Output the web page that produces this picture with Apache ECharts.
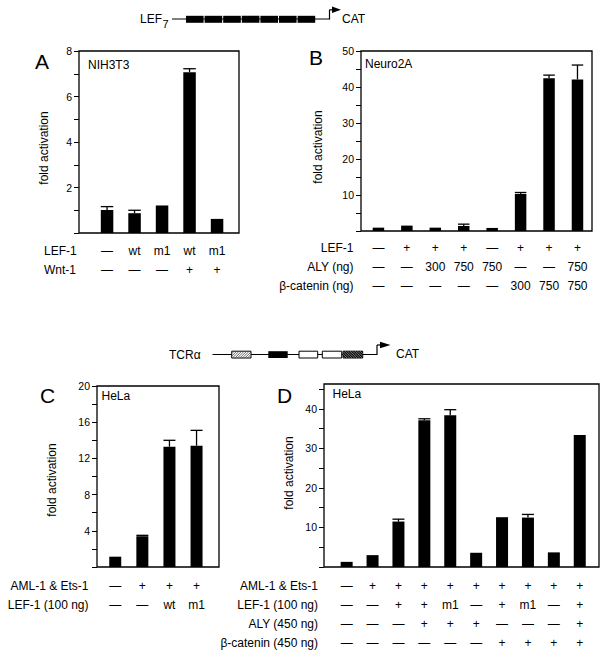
<!DOCTYPE html>
<html><head><meta charset="utf-8">
<script src="https://cdn.jsdelivr.net/npm/echarts@6/dist/echarts.min.js"></script>
<style>html,body{margin:0;padding:0;background:#fff}#c{width:605px;height:659px}</style>
</head><body><div id="c"></div>
<script>
// ---------- DATA ----------
// Panel A (NIH3T3)
const A_ROW_NAMES = ['LEF-1', 'Wnt-1'];
const A_LEF1 = ['—', 'wt', 'm1', 'wt', 'm1'];
const A_WNT1 = ['—', '—', '—', '+', '+'];
const A_VALUES = [1.01, 0.87, 1.21, 7.07, 0.62];
const A_ERRORS = [1.16, 1.00, null, 7.22, null];
const A_TICK_LABELS = ['2', '4', '6', '8'];

// Panel B (Neuro2A)
const B_ROW_NAMES = ['LEF-1', 'ALY (ng)', 'β-catenin (ng)'];
const B_LEF1 = ['—', '+', '+', '+', '—', '+', '+', '+'];
const B_ALY = ['—', '—', '300', '750', '750', '—', '—', '750'];
const B_BCAT = ['—', '—', '—', '—', '—', '300', '750', '750'];
const B_VALUES = [0.93, 1.5, 0.93, 1.4, 0.85, 10.3, 42.4, 42.1];
const B_ERRORS = [null, null, null, 1.9, null, 10.7, 43.3, 46.1];
const B_TICK_LABELS = ['10', '20', '30', '40', '50'];

// Panel C (HeLa)
const C_ROW_NAMES = ['AML-1 & Ets-1', 'LEF-1 (100 ng)'];
const C_AML = ['—', '+', '+', '+'];
const C_LEF1 = ['—', '—', 'wt', 'm1'];
const C_VALUES = [1.14, 3.4, 13.3, 13.4];
const C_ERRORS = [null, 3.5, 14.0, 15.1];
const C_TICK_LABELS = ['4', '8', '12', '16', '20'];

// Panel D (HeLa)
const D_ROW_NAMES = ['AML-1 & Ets-1', 'LEF-1 (100 ng)', 'ALY (450 ng)', 'β-catenin (450 ng)'];
const D_AML = ['—', '+', '+', '+', '+', '+', '+', '+', '+', '+'];
const D_LEF1 = ['—', '—', '+', '+', 'm1', '—', '+', 'm1', '—', '+'];
const D_ALY = ['—', '—', '—', '+', '+', '+', '—', '—', '—', '+'];
const D_BCAT = ['—', '—', '—', '—', '—', '—', '+', '+', '+', '+'];
const D_VALUES = [1.3, 3.0, 11.5, 37.1, 38.4, 3.6, 12.6, 12.5, 3.7, 33.4];
const D_ERRORS = [null, null, 12.1, 37.5, 39.8, null, null, 13.3, null, null];
const D_TICK_LABELS = ['10', '20', '30', '40'];

// ---------- BUILD ----------
const FONT = "'Liberation Sans', Arial, Helvetica, sans-serif";
const ROW_FS = 12;
const grid = [], xAxis = [], yAxis = [], series = [], graphic = [];

function txt(x, y, text, size, align, opts) {
  const o = Object.assign({
    type: 'text', x: x, y: y, silent: true,
    style: {
      text: text, fill: '#000', fontSize: size, fontFamily: FONT,
      align: align || 'left', verticalAlign: 'middle',
      textAlign: align || 'left', textVerticalAlign: 'middle'
    }
  }, opts || {});
  graphic.push(o);
}
function line(x1, y1, x2, y2, w, c) {
  graphic.push({ type: 'line', silent: true, shape: { x1, y1, x2, y2 }, style: { stroke: c || '#000', lineWidth: w || 1 } });
}
function rect(x, y, w, h, fill, stroke) {
  graphic.push({ type: 'rect', silent: true, shape: { x, y, width: w, height: h }, style: { fill: fill, stroke: stroke || null, lineWidth: stroke ? 1 : 0 } });
}

function panel(p) {
  const gi = grid.length;
  const [fl, ft, fw, fh] = p.frame;
  const bottom = ft + fh;
  grid.push({ left: fl, top: ft, width: fw, height: fh, show: true, borderColor: '#000', borderWidth: 1.3, backgroundColor: 'transparent' });
  xAxis.push({ gridIndex: gi, type: 'value', show: false });
  yAxis.push({ gridIndex: gi, type: 'value', show: false });
  const bi = gi + 1;
  const top = p.barsTop != null ? p.barsTop : ft;
  grid.push({ left: p.bars[0], width: p.bars[1], top: top, height: bottom - top, show: false });
  xAxis.push({
    gridIndex: bi, type: 'category', data: p.rows[0].map((_, i) => String(i)),
    axisLine: { show: false }, axisTick: { show: false },
    axisLabel: {
      show: true, interval: 0, margin: p.labelMargin, fontSize: ROW_FS, lineHeight: 19,
      color: '#000', fontFamily: FONT,
      formatter: (v, i) => p.rows.map(r => r[i]).join('\n')
    }
  });
  yAxis.push({
    gridIndex: bi, type: 'value', min: 0, max: p.max, interval: p.step,
    offset: p.bars[0] - fl,
    axisLine: { show: false }, splitLine: { show: false },
    axisTick: { show: true, length: 5, inside: false, lineStyle: { color: '#000', width: 1 } },
    axisLabel: {
      fontSize: 10.5, color: '#000', fontFamily: FONT, margin: 7,
      formatter: v => p.tickLabels.includes(String(v)) ? String(v) : ''
    }
  });
  series.push({
    type: 'bar', xAxisIndex: bi, yAxisIndex: bi, data: p.values, barWidth: p.barWidth,
    itemStyle: { color: '#000' }, silent: true, animation: false
  });
  const errData = [];
  p.values.forEach((v, i) => { if (p.errors[i] != null) errData.push([i, v, p.errors[i]]); });
  const cap = p.barWidth;
  series.push({
    type: 'custom', xAxisIndex: bi, yAxisIndex: bi, data: errData, silent: true, animation: false,
    renderItem: (params, api) => {
      const i = api.value(0);
      const p0 = api.coord([i, api.value(1)]);
      const p1 = api.coord([i, api.value(2)]);
      const hw = cap / 2;
      return {
        type: 'group', children: [
          { type: 'line', shape: { x1: p0[0], y1: p0[1], x2: p1[0], y2: p1[1] }, style: { stroke: '#000', lineWidth: 1.3 } },
          { type: 'line', shape: { x1: p1[0] - hw, y1: p1[1], x2: p1[0] + hw, y2: p1[1] }, style: { stroke: '#000', lineWidth: 1.3 } }
        ]
      };
    }
  });
  // row names
  p.rowNames.forEach((n, k) => txt(p.rowNameX, p.rowY0 + k * 19, n, ROW_FS, p.rowNameAlign));
  // panel letter, inner label, y title
  txt(p.letter[1], p.letter[2], p.letter[0], 21, 'left');
  txt(p.inner[1], p.inner[2], p.inner[0], 12, 'left');
  txt(p.ytitle[0], p.ytitle[1], 'fold activation', 12, 'center', { rotation: Math.PI / 2 });
}

panel({
  frame: [79, 51, 160, 182], bars: [93.3, 137.5], max: 8, step: 1, tickLabels: A_TICK_LABELS,
  rows: [A_LEF1, A_WNT1], values: A_VALUES, errors: A_ERRORS, barWidth: 12.5, labelMargin: 8,
  rowNames: A_ROW_NAMES, rowNameX: 44, rowNameAlign: 'left', rowY0: 251,
  letter: ['A', 35, 61], inner: ['NIH3T3', 88, 64.5], ytitle: [44, 148]
});
panel({
  frame: [361, 51, 231, 180], bars: [364.2, 227.5], max: 50, step: 5, tickLabels: B_TICK_LABELS,
  rows: [B_LEF1, B_ALY, B_BCAT], values: B_VALUES, errors: B_ERRORS, barWidth: 11.5, labelMargin: 7.5,
  rowNames: B_ROW_NAMES, rowNameX: 353.5, rowNameAlign: 'right', rowY0: 248.3,
  letter: ['B', 309, 57], inner: ['Neuro2A', 365, 63.5], ytitle: [318, 147]
});
panel({
  frame: [97, 386, 122, 181], bars: [101.7, 108.4], max: 20, step: 2, tickLabels: C_TICK_LABELS,
  rows: [C_AML, C_LEF1], values: C_VALUES, errors: C_ERRORS, barWidth: 12, labelMargin: 9,
  rowNames: C_ROW_NAMES, rowNameX: 88.5, rowNameAlign: 'right', rowY0: 585.7,
  letter: ['C', 40, 395.5], inner: ['HeLa', 101.5, 396], ytitle: [52, 480]
});
panel({
  frame: [324, 384, 275, 183], barsTop: 567 - 45 * (183 / 46.3), bars: [333.7, 259], max: 45, step: 5, tickLabels: D_TICK_LABELS,
  rows: [D_AML, D_LEF1, D_ALY, D_BCAT], values: D_VALUES, errors: D_ERRORS, barWidth: 12, labelMargin: 9,
  rowNames: D_ROW_NAMES, rowNameX: 318, rowNameAlign: 'right', rowY0: 585.7,
  letter: ['D', 277, 395.5], inner: ['HeLa', 332.5, 393.5], ytitle: [289, 473]
});

// ---------- promoter diagrams ----------
// LEF7 -> CAT
txt(140, 18.5, 'LEF', 12, 'left');
txt(162.5, 23.5, '7', 11, 'left');
line(172, 19, 329.5, 19, 1.2);
for (let k = 0; k < 7; k++) rect(186 + k * 18.6, 15.8, 17.6, 7, '#000');
line(329.5, 19.5, 329.5, 9.8, 1.2);
line(329.5, 9.8, 333, 9.8, 1.2);
graphic.push({ type: 'polygon', silent: true, shape: { points: [[332, 6.5], [341, 9.8], [332, 13]] }, style: { fill: '#000' } });
txt(342, 18.5, 'CAT', 12, 'left');

// TCRalpha -> CAT
function hatchBox(x0, y0, w, h, bg, lc, sp, dir) {
  rect(x0, y0, w, h, bg, '#000');
  for (let k = -h; k < w; k += sp) {
    let xa = x0 + k, ya = y0 + h, xb = x0 + k + h, yb = y0;
    if (xa < x0) { ya -= (x0 - xa); xa = x0; }
    if (xb > x0 + w) { yb += (xb - (x0 + w)); xb = x0 + w; }
    if (dir < 0) { xa = 2 * x0 + w - xa; xb = 2 * x0 + w - xb; }
    line(xa, ya, xb, yb, 0.8, lc);
  }
}
txt(169, 355, 'TCRα', 12, 'left');
line(212.5, 354.5, 377, 354.5, 1.2);
hatchBox(231.7, 351.2, 19.3, 6.8, '#fff', '#444', 2.5, 1);
rect(268.3, 351.2, 19.4, 6.8, '#000');
rect(299, 351.2, 18.7, 6.8, '#fff', '#000');
rect(322.3, 351.2, 19.4, 6.8, '#fff', '#000');
hatchBox(343, 351.2, 19.7, 6.8, '#111', '#888', 2.5, -1);
line(377, 355, 377, 345, 1.2);
line(377, 345, 381, 345, 1.2);
graphic.push({ type: 'polygon', silent: true, shape: { points: [[380, 341.8], [390.5, 345], [380, 348.2]] }, style: { fill: '#000' } });
txt(396, 353.5, 'CAT', 12, 'left');

const chart = echarts.init(document.getElementById('c'), null, { renderer: 'svg' });
chart.setOption({
  animation: false,
  backgroundColor: '#fff',
  textStyle: { fontFamily: FONT },
  grid, xAxis, yAxis, series, graphic
});
</script></body></html>
